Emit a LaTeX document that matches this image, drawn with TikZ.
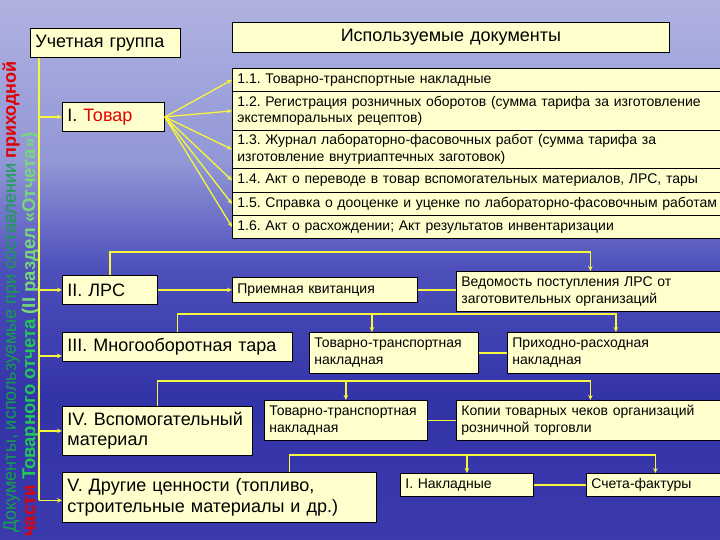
\documentclass[tikz,border=0pt]{standalone}
\usepackage{fontspec}
\setmainfont{Liberation Sans}
\usetikzlibrary{arrows.meta,calc}
\frenchspacing
\definecolor{boxfill}{RGB}{255,255,206}
\definecolor{connc}{RGB}{246,246,60}
\definecolor{txtred}{RGB}{225,0,0}
\definecolor{grnA}{RGB}{20,160,75}
\definecolor{grnB}{RGB}{35,200,85}
\definecolor{grnC}{RGB}{120,215,120}
\pgfdeclareverticalshading{bgsh}{100bp}{rgb(0bp)=(0.23,0.23,0.68); rgb(25bp)=(0.23,0.23,0.68); rgb(38bp)=(0.2,0.2,0.66); rgb(50bp)=(0.3,0.31,0.73); rgb(60bp)=(0.57,0.59,0.84); rgb(75bp)=(0.69,0.7,0.88); rgb(100bp)=(0.69,0.7,0.88)}
\newcommand{\mybox}[7]{%
  \pgfmathsetmacro{\myBW}{#4-#2}\pgfmathsetmacro{\myBH}{#5-#3}\pgfmathsetmacro{\myTW}{#4-#2-10}%
  \node[box,#6,minimum width=\myBW pt,minimum height=\myBH pt,text width=\myTW pt,anchor=north west] (#1) at (#2,#3) {#7};}
\tikzset{
  box/.style={draw=black,line width=0.8pt,fill=boxfill,inner xsep=5pt,inner ysep=1pt,align=left,
    font=\fontsize{14}{16.8}\selectfont},
  big/.style={font=\fontsize{18}{20.5}\selectfont},
  conn/.style={draw=connc,line width=1.3pt},
  arr/.style={conn,-{Stealth[length=5pt,width=4.5pt]}},
}
\begin{document}
\begin{tikzpicture}[x=1pt,y=-1pt]
\useasboundingbox (0,0) rectangle (720,540);
\shade[shading=bgsh] (0,0) rectangle (720,540);
% vertical texts
\node[rotate=90,anchor=base west,inner sep=0,font=\fontsize{18}{20}\selectfont] (vt1) at (16,533)
  {\textcolor{grnA}{Документы, используемые при составлении} \textcolor{txtred}{\bfseries приходной}};
\node[rotate=90,anchor=base west,inner sep=0,font=\fontsize{18.5}{20}\selectfont\bfseries] (vt2) at (35,537)
  {\textcolor{txtred}{части} \textcolor{grnB}{Товарного отчета} \textcolor{grnC}{(II раздел «Отчета»)}};
% boxes
\mybox{ug}{30}{28}{180}{57}{big}{Учетная группа}
\mybox{hdr}{232}{22}{669}{52}{big,align=center}{Используемые документы}
\mybox{l11}{232}{68}{724}{91}{}{1.1. Товарно-транспортные накладные}
\mybox{l12}{232}{91}{724}{130}{}{1.2. Регистрация розничных оборотов (сумма тарифа за изготовление\\экстемпоральных рецептов)}
\mybox{l13}{232}{130}{724}{168}{}{1.3. Журнал лабораторно-фасовочных работ (сумма тарифа за\\изготовление внутриаптечных заготовок)}
\mybox{l14}{232}{168}{724}{192}{}{1.4. Акт о переводе в товар вспомогательных материалов, ЛРС, тары}
\mybox{l15}{232}{192}{724}{215}{}{1.5. Справка о дооценке и уценке по лабораторно-фасовочным работам}
\mybox{l16}{232}{215}{724}{238}{}{1.6. Акт о расхождении; Акт результатов инвентаризации}
\mybox{tov}{62}{102}{164}{131}{big}{I. \textcolor{txtred}{Товар}}
\mybox{lrs}{62}{275}{157}{304}{big}{II. ЛРС}
\mybox{mt}{62}{332}{292}{361}{big}{III. Многооборотная тара}
\mybox{vm}{62}{406}{252}{455}{big}{IV. Вспомогательный\\материал}
\mybox{dc}{62}{472}{376}{522}{big}{V. Другие ценности (топливо,\\строительные материалы и др.)}
\mybox{priem}{232}{277}{417}{302}{}{Приемная квитанция}
\mybox{ved}{456}{271}{724}{311}{}{Ведомость поступления ЛРС от\\заготовительных организаций}
\mybox{tt1}{309}{332}{478}{373}{}{Товарно-транспортная\\накладная}
\mybox{prx}{507}{332}{724}{373}{}{Приходно-расходная\\накладная}
\mybox{tt2}{264}{400}{427}{440}{}{Товарно-транспортная\\накладная}
\mybox{kop}{456}{400}{724}{440}{}{Копии товарных чеков организаций\\розничной торговли}
\mybox{nak}{400}{473}{533}{496}{}{I. Накладные}
\mybox{sch}{586}{473}{724}{496}{}{Счета-фактуры}
% main vertical trunk
\coordinate (vtop) at ([xshift=9pt]ug.south west);
\coordinate (mtin) at ([yshift=-9pt]mt.west);
\coordinate (dcin) at ([yshift=-3pt]dc.west);
\draw[conn] (vtop) -- (vtop |- dcin);
\draw[arr] (vtop |- tov.west) -- (tov.west);
\draw[arr] (vtop |- lrs.west) -- (lrs.west);
\draw[arr] (vtop |- mtin) -- (mtin);
\draw[arr] (vtop |- vm.west) -- (vm.west);
\draw[arr] (vtop |- dcin) -- (dcin);
% fan from Товар
\foreach \t in {l11,l12,l13,l14,l15,l16}
  \draw[arr] (tov.east) -- (\t.west);
% II ЛРС
\draw[arr] (lrs.east) -- (lrs.east -| priem.west);
\draw[conn] (priem.east) -- (priem.east -| ved.west);
\draw[arr] (lrs.north) -- ++(0,-23) -| (ved.north);
% III
\draw[arr] (mt.north) -- ++(0,-18) -| (prx.north);
\draw[arr] ([xshift=-22pt]tt1.north) ++(0,-18) -- ([xshift=-22pt]tt1.north);
\draw[conn] (tt1.east) -- (tt1.east -| prx.west);
% IV
\draw[arr] (vm.north) -- ++(0,-25) -| (kop.north);
\draw[arr] (tt2.north) ++(0,-19) -- (tt2.north);
\draw[conn] (tt2.east) -- (tt2.east -| kop.west);
% V
\draw[arr] ([xshift=70pt]dc.north) -- ++(0,-17) -| (sch.north);
\draw[arr] (nak.north) ++(0,-18) -- (nak.north);
\draw[conn] (nak.east) -- (nak.east -| sch.west);
\end{tikzpicture}
\end{document}
